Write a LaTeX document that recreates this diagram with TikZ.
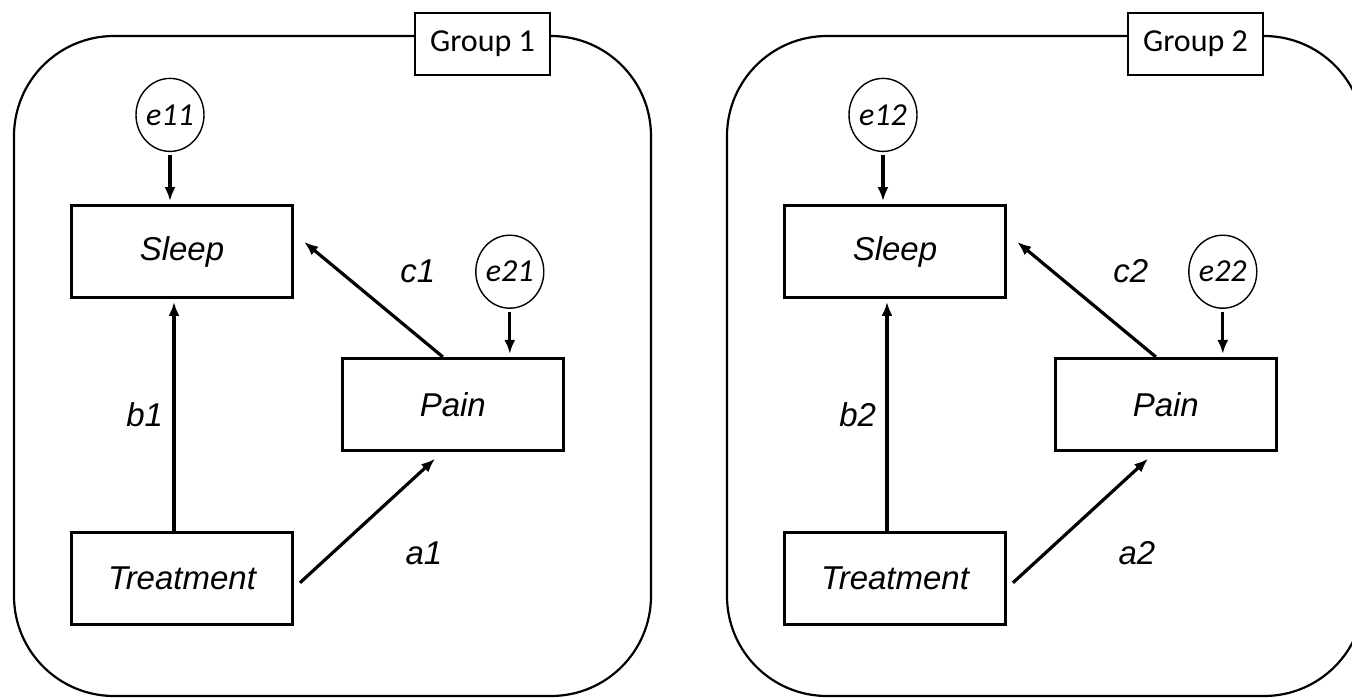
\documentclass[tikz,border=0pt]{standalone}
\usepackage{fontspec}
\setmainfont{Liberation Sans}
\newfontfamily\calibri{Carlito}
\usetikzlibrary{positioning}
\usetikzlibrary{shapes.geometric}
\usetikzlibrary{arrows.meta}

\begin{document}
\begin{tikzpicture}[
    x=1pt, y=-1pt,
    var/.style={draw, line width=2.8pt, minimum width=221pt, minimum height=92pt, font=\fontsize{33}{39}\selectfont\itshape},
    err/.style={draw, ellipse, line width=1.4pt, minimum width=68pt, minimum height=73pt, inner sep=0pt, font=\fontsize{32}{38}\selectfont\calibri\itshape},
    grp/.style={draw, line width=2.2pt, rounded corners=100pt, minimum width=637pt, minimum height=660pt},
    grplabel/.style={draw, fill=white, line width=1.6pt, minimum width=135pt, minimum height=62pt, font=\fontsize{32}{38}\selectfont\calibri},
    effect/.style={-{Latex[length=14pt,width=11pt]}, line width=3.2pt, shorten >=3pt},
    coef/.style={font=\fontsize{33}{39}\selectfont\itshape}
    ]

    \useasboundingbox (0,0) rectangle (1352,698);
    \clip (0,0) rectangle (1352,698);

    \foreach \g/\dx in {1/0,2/713}{
    \begin{scope}[xshift=\dx pt]
    \node[grp] (box\g) at (332.5,366) {};
    \node[grplabel] (group\g) at (482.5,44) {Group \g};

    \node[var] (sleep\g) at (182,251.5) {Sleep};
    \node[var, below=232pt of sleep\g] (treat\g) {Treatment};
    \node[var, below right=58pt and 47pt of sleep\g] (pain\g) {Pain};
    \node[err, above=52pt of sleep\g, xshift=-12pt] (ea\g) {e1\g};
    \node[err, above=48pt of pain\g, xshift=57pt] (eb\g) {e2\g};

    \path (ea\g.south) edge[effect, shorten <=3pt] (ea\g.south |- sleep\g.north)
    (eb\g.south) edge[effect, shorten <=3pt] (eb\g.south |- pain\g.north)
    ([xshift=-8pt]treat\g.north) edge[effect] node[coef, left=6pt] {b\g} ([xshift=-8pt]sleep\g.south)
    ([xshift=-10pt]pain\g.north) edge[effect] node[coef, above right=11pt and 23pt] {c\g} ([shift={(8pt,11.5pt)}]sleep\g.east)
    ([shift={(6pt,-4.5pt)}]treat\g.east) edge[effect] node[coef, below right=17pt and 32pt] {a\g} ([shift={(-15.5pt,-5pt)}]pain\g.south)
    ;
    \end{scope}
    }

\end{tikzpicture}
\end{document}
